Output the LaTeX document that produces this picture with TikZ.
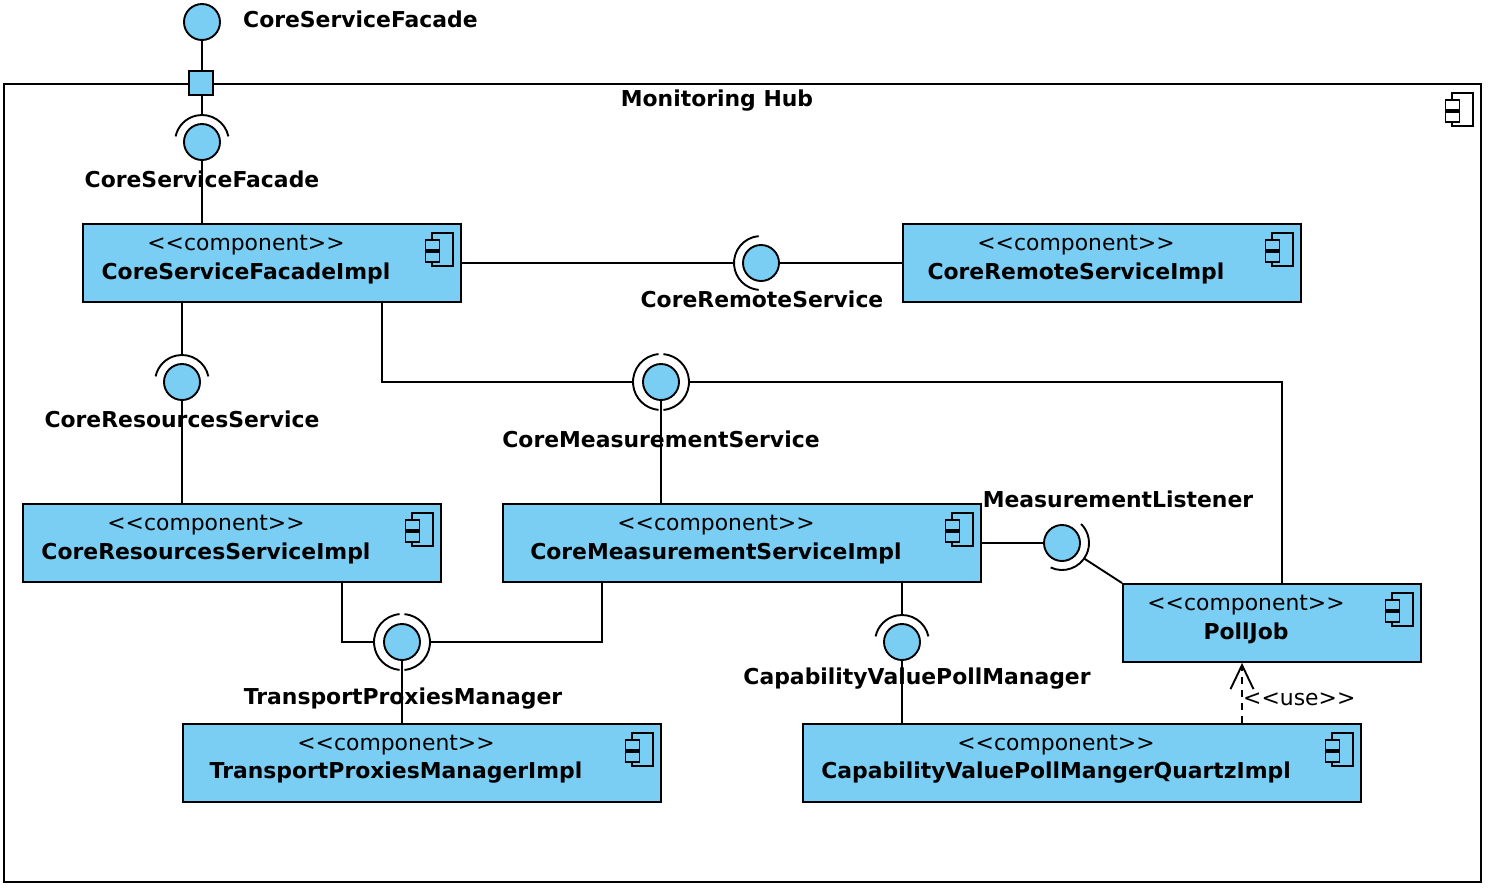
\documentclass[tikz,border=0pt]{standalone}
\usepackage{fontspec}
\setmainfont{DejaVu Sans}
\usetikzlibrary{arrows.meta,calc}
\definecolor{umlblue}{RGB}{122,206,244}
\newcommand\stLL{<\kern0pt<}
\newcommand\stGG{>\kern0pt>}
\tikzset{
  compicon/.pic={
    \draw[line width=1.3pt, pic actions] (-30,10) rectangle (-9,43);
    \draw[line width=1.1pt, pic actions] (-36,17) rectangle (-22,27);
    \draw[line width=1.1pt, pic actions] (-36,29) rectangle (-22,39);
  }
}
\begin{document}
\begin{tikzpicture}[x=1pt,y=-1pt,
  every node/.style={font=\fontsize{21.9}{24}\selectfont},
  line/.style={line width=1.9pt, draw=black},
  comp/.style={draw, line width=1.9pt, fill=umlblue, inner sep=0pt, anchor=north west, minimum height=78pt},
  frame/.style={draw, line width=1.9pt, inner sep=0pt, anchor=north west},
  ball/.style={circle, draw, line width=1.9pt, fill=umlblue, minimum size=36pt, inner sep=0pt},
  port/.style={draw, line width=1.9pt, fill=umlblue, minimum size=24pt, inner sep=0pt},
  lbl/.style={font=\fontsize{21.9}{24}\selectfont\bfseries, inner sep=0pt},
  stereo/.style={inner sep=0pt},
  sock/.style={line width=1.9pt}
]
\useasboundingbox (0,0) rectangle (1491,887);

% outer frame
\node[frame, minimum width=1477pt, minimum height=798pt] (hub) at (3,83) {};
\node[lbl] (title) at (717,101) {Monitoring Hub};
\pic[fill=white] at (hub.north east) {compicon};

% components
\node[comp, minimum width=378pt] (b1) at (82,223) {};
\pic[fill=umlblue] at (b1.north east) {compicon};
\node[stereo] (b1s) at (246,245) {\stLL component\stGG};
\node[lbl] (b1n) at (246,273) {CoreServiceFacadeImpl};

\node[comp, minimum width=398pt] (b2) at (902,223) {};
\pic[fill=umlblue] at (b2.north east) {compicon};
\node[stereo] (b2s) at (1076,245) {\stLL component\stGG};
\node[lbl] (b2n) at (1076,273) {CoreRemoteServiceImpl};

\node[comp, minimum width=418pt] (b3) at (22,503) {};
\pic[fill=umlblue] at (b3.north east) {compicon};
\node[stereo] (b3s) at (206,525) {\stLL component\stGG};
\node[lbl] (b3n) at (206,553) {CoreResourcesServiceImpl};

\node[comp, minimum width=478pt] (b4) at (502,503) {};
\pic[fill=umlblue] at (b4.north east) {compicon};
\node[stereo] (b4s) at (716,525) {\stLL component\stGG};
\node[lbl] (b4n) at (716,553) {CoreMeasurementServiceImpl};

\node[comp, minimum width=298pt] (b5) at (1122,583) {};
\pic[fill=umlblue] at (b5.north east) {compicon};
\node[stereo] (b5s) at (1246,605) {\stLL component\stGG};
\node[lbl] (b5n) at (1246,633) {PollJob};

\node[comp, minimum width=478pt] (b6) at (182,723) {};
\pic[fill=umlblue] at (b6.north east) {compicon};
\node[stereo] (b6s) at (396,745) {\stLL component\stGG};
\node[lbl] (b6n) at (396,773) {TransportProxiesManagerImpl};

\node[comp, minimum width=558pt] (b7) at (802,723) {};
\pic[fill=umlblue] at (b7.north east) {compicon};
\node[stereo] (b7s) at (1056,745) {\stLL component\stGG};
\node[lbl] (b7n) at (1056,773) {CapabilityValuePollMangerQuartzImpl};

% top facade with port
\node[ball] (cf) at (202,22) {};
\node[lbl, anchor=west] (cfl) at (243,19) {CoreServiceFacade};
\node[port] (pt) at (201,83) {};
\draw[line] (cf) -- (cf |- pt.north);
\node[ball] (cfs) at (202,142) {};
\draw[sock] ([shift={(12:27pt)}]cfs.center) arc[start angle=12,end angle=168,radius=27pt];
\coordinate (cfsT) at ([shift={(90:27pt)}]cfs.center);
\draw[line] (cfsT |- pt.south) -- (cfsT);
\draw[line] (cfs) -- (cfs |- b1.north);
\node[lbl] (cfsl) at (202,179) {CoreServiceFacade};

% CoreRemoteService
\node[ball] (rs) at (761,263) {};
\draw[sock] ([shift={(95:27pt)}]rs.center) arc[start angle=95,end angle=265,radius=27pt];
\coordinate (rsL) at ([shift={(180:27pt)}]rs.center);
\draw[line] (b1.east) -- (rsL);
\draw[line] (rs) -- (b2.west);
\node[lbl] (rsl) at (762,299) {CoreRemoteService};

% CoreResourcesService
\node[ball] (rr) at (182,382) {};
\draw[sock] ([shift={(12:27pt)}]rr.center) arc[start angle=12,end angle=168,radius=27pt];
\coordinate (rrT) at ([shift={(90:27pt)}]rr.center);
\draw[line] (b1.south -| rrT) -- (rrT);
\draw[line] (rr) -- (rr |- b3.north);
\node[lbl] (rrl) at (182,419) {CoreResourcesService};

% CoreMeasurementService
\node[ball] (ms) at (661,382) {};
\draw[sock] ([shift={(95:28pt)}]ms.center) arc[start angle=95,end angle=265,radius=28pt];
\draw[sock] ([shift={(-85:28pt)}]ms.center) arc[start angle=-85,end angle=85,radius=28pt];
\coordinate (msL) at ([shift={(180:28pt)}]ms.center);
\coordinate (msR) at ([shift={(0:28pt)}]ms.center);
\draw[line] (b1.south west) ++(300,0) |- (msL);
\draw[line] (msR) -| ([xshift=160pt]b5.north west);
\draw[line] (ms) -- (ms |- b4.north);
\node[lbl] (msl) at (661,439) {CoreMeasurementService};

% TransportProxiesManager
\node[ball] (tp) at (402,642) {};
\draw[sock] ([shift={(95:28pt)}]tp.center) arc[start angle=95,end angle=265,radius=28pt];
\draw[sock] ([shift={(-85:28pt)}]tp.center) arc[start angle=-85,end angle=85,radius=28pt];
\coordinate (tpL) at ([shift={(180:28pt)}]tp.center);
\coordinate (tpR) at ([shift={(0:28pt)}]tp.center);
\draw[line] (b3.south west) ++(320,0) |- (tpL);
\draw[line] (b4.south west) ++(100,0) |- (tpR);
\draw[line] (tp) -- (tp |- b6.north);
\node[lbl] (tpl) at (403,699) {TransportProxiesManager};

% MeasurementListener
\node[ball] (ml) at (1062,543) {};
\draw[sock] ([shift={(-115:27pt)}]ml.center) arc[start angle=-115,end angle=45,radius=27pt];
\coordinate (mlC) at ([shift={(-35:27pt)}]ml.center);
\draw[line] (b4.east) -- (ml);
\draw[line] (mlC) -- (b5.north west);
\node[lbl] (mll) at (1118,499) {MeasurementListener};

% CapabilityValuePollManager
\node[ball] (cv) at (902,642) {};
\draw[sock] ([shift={(12:27pt)}]cv.center) arc[start angle=12,end angle=168,radius=27pt];
\coordinate (cvT) at ([shift={(90:27pt)}]cv.center);
\draw[line] (b4.south west) ++(400,0) -- (cvT);
\draw[line] (cv) -- (cv |- b7.north);
\node[lbl] (cvl) at (917,679) {CapabilityValuePollManager};

% use dependency
\draw[line, dash pattern=on 7pt off 6pt, -{Straight Barb[length=24pt, width=23pt, line width=1.9pt]}]
  (b7.north west) ++(440,0) -- ([xshift=120pt]b5.south west);
\node[stereo, anchor=west] (use) at (1243,699) {\stLL use\stGG};
\end{tikzpicture}
\end{document}
